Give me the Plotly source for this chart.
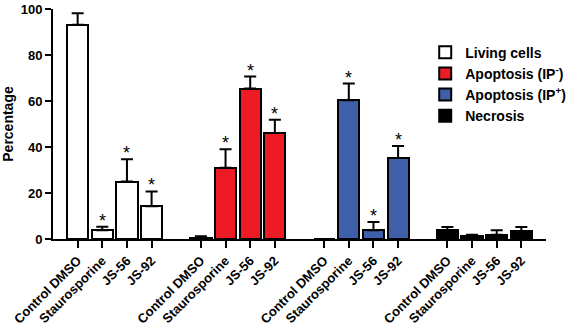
import plotly.graph_objects as go

categories = ["Control DMSO", "Staurosporine", "JS-56", "JS-92"]
series_names = ["Living cells", "Apoptosis (IP<sup>-</sup>)", "Apoptosis (IP<sup>+</sup>)", "Necrosis"]
living = [93.2, 3.8, 25.0, 14.2]
living_err = [5.0, 1.5, 9.7, 6.5]
apo_neg = [0.5, 31.0, 65.4, 46.1]
apo_neg_err = [0.7, 8.0, 5.2, 5.8]
apo_pos = [0.0, 60.3, 3.8, 35.2]
apo_pos_err = [0.0, 7.3, 3.6, 5.2]
necrosis = [3.8, 1.2, 1.9, 3.3]
necrosis_err = [1.4, 0.7, 1.9, 1.9]
significant = [
    [False, True, True, True],
    [False, True, True, True],
    [False, True, True, True],
    [False, False, False, False],
]
colors = ["white", "#ed1c24", "#3f5fa8", "black"]

values = [living, apo_neg, apo_pos, necrosis]
errors = [living_err, apo_neg_err, apo_pos_err, necrosis_err]

FONT = "Liberation Sans, Arial, sans-serif"
fig = go.Figure()
tickvals, ticktext = [], []
annotations = []
for g, (name, vals, errs, col) in enumerate(zip(series_names, values, errors, colors)):
    xs = [g * 5 + i for i in range(len(categories))]
    tickvals += xs
    ticktext += categories
    fig.add_trace(go.Bar(
        x=xs, y=vals, name=name, width=0.86,
        marker=dict(color=col, line=dict(color="black", width=2)),
        error_y=dict(type="data", array=errs, arrayminus=[0] * len(errs), symmetric=False,
                     color="black", thickness=2, width=6, visible=True),
    ))
    for i, x in enumerate(xs):
        if significant[g][i]:
            annotations.append(dict(x=x, y=vals[i] + errs[i], text="*", showarrow=False,
                                    yanchor="bottom", yshift=-6,
                                    font=dict(family=FONT, size=18, color="black")))

fig.update_layout(
    width=580, height=330,
    margin=dict(l=53, r=20, t=9, b=91),
    plot_bgcolor="white", paper_bgcolor="white",
    barmode="overlay", bargap=0,
    font=dict(family=FONT, color="black"),
    showlegend=True,
    legend=dict(x=0.755, y=0.88, xanchor="left", yanchor="top",
                font=dict(family=FONT, size=14, color="black", weight="bold"),
                bgcolor="rgba(0,0,0,0)", itemwidth=30, tracegroupgap=6),
    annotations=annotations,
)
fig.update_xaxes(range=[-1, 19], tickvals=tickvals, ticktext=ticktext, tickangle=-45,
                 showline=True, linecolor="black", linewidth=2, ticks="outside",
                 ticklen=7, tickwidth=2, tickcolor="black", showgrid=False, zeroline=False,
                 automargin=False,
                 tickfont=dict(family=FONT, size=13, color="black", weight="bold"))
fig.update_yaxes(range=[0, 100], dtick=20, showline=True, linecolor="black", linewidth=2,
                 ticks="outside", ticklen=6, tickwidth=2, tickcolor="black",
                 showgrid=False, zeroline=False, automargin=False,
                 title=dict(text="Percentage", font=dict(family=FONT, size=14, color="black", weight="bold"), standoff=6),
                 tickfont=dict(family=FONT, size=13, color="black", weight="bold"))

fig.write_html("out.html", config={"displayModeBar": False},
               post_script="document.body.style.margin='0px';")
